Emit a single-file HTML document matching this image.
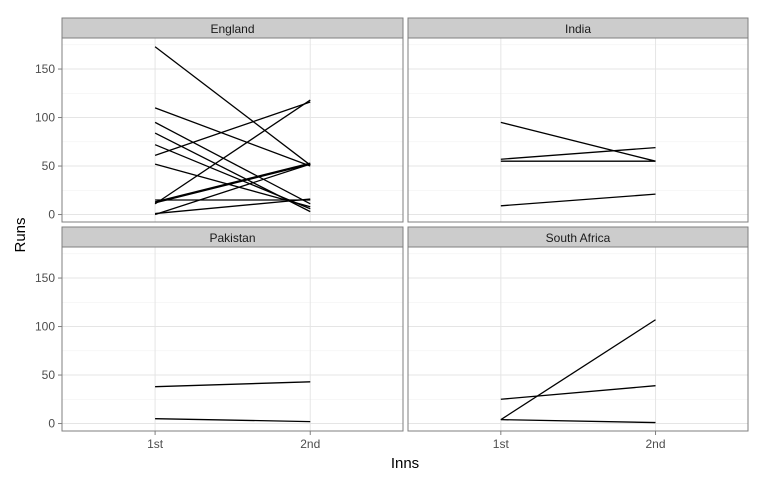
<!DOCTYPE html>
<html><head><meta charset="utf-8"><style>
body{margin:0;background:#fff;font-family:"Liberation Sans",sans-serif}
</style></head><body>
<svg id="c" width="768" height="480" xmlns="http://www.w3.org/2000/svg"></svg>
<script>
const panels=["England","India","Pakistan","South Africa"];
const innsCats=["1st","2nd"];
const yTicks=[0,50,100,150];
const englandRuns=[[173,51],[110,50],[95,11],[84,3],[72,6],[61,116],[52,8],[15,15],[13,53],[11,118],[12,52],[1,16],[0,52]];
const indiaRuns=[[95,55],[57,69],[55,55],[9,21]];
const pakistanRuns=[[38,43],[5,2]];
const southAfricaRuns=[[4,107],[25,39],[4,1]];
const seriesByPanel=[englandRuns,indiaRuns,pakistanRuns,southAfricaRuns];

const svg=document.getElementById('c');
const NS="http://www.w3.org/2000/svg";
function mk(t,a,p){const e=document.createElementNS(NS,t);for(const k in a)e.setAttribute(k,a[k]);(p||svg).appendChild(e);return e;}
const cols=[[62,403],[408,748]];
const rows=[[18,38,222],[227,247,431]];
const yMin=-7.7,yMax=182;
function yScale(v,r){const [s,t,b]=rows[r];return b-(v-yMin)/(yMax-yMin)*(b-t);}
function xScale(i,c){const [l,rr]=cols[c];return l+(rr-l)*(i+0.6)/2.2*1+0;}
function xs(i,c){const [l,rr]=cols[c];const w=rr-l;return l+w*(0.273+0.455*i);}
panels.forEach((name,pi)=>{
  const c=pi%2,r=Math.floor(pi/2);
  const [l,rr]=cols[c];const [s,t,b]=rows[r];
  const g=mk('g',{},svg);
  
  
  mk('rect',{x:l,y:t,width:rr-l,height:b-t,fill:'#fff'},g);
  [25,75,125,175].forEach(v=>{const y=yScale(v,r);mk('line',{x1:l,x2:rr,y1:y,y2:y,stroke:'#f2f2f2','stroke-width':0.6},g);});
  yTicks.forEach(v=>{const y=yScale(v,r);mk('line',{x1:l,x2:rr,y1:y,y2:y,stroke:'#e5e5e5','stroke-width':1},g);});
  innsCats.forEach((cat,i)=>{const x=xs(i,c);mk('line',{x1:x,x2:x,y1:t,y2:b,stroke:'#e5e5e5','stroke-width':1},g);});
  seriesByPanel[pi].forEach(d=>{
    const ln=mk('line',{x1:xs(0,c),y1:yScale(d[0],r),x2:xs(1,c),y2:yScale(d[1],r),stroke:'#000','stroke-width':1.3},g);
    
    
  });
  mk('rect',{x:l,y:t,width:rr-l,height:b-t,fill:'none',stroke:'#7f7f7f','stroke-width':1},g);
  const st=mk('rect',{x:l,y:s,width:rr-l,height:t-s,fill:'#cccccc',stroke:'#7f7f7f','stroke-width':1},g);
  
  
  const tx=mk('text',{x:(l+rr)/2,y:s+15,'text-anchor':'middle','font-size':12,fill:'#1a1a1a'},g);
  tx.textContent=name;
  
  
  if(c===0){yTicks.forEach(v=>{const y=yScale(v,r);
    mk('line',{x1:l-4,x2:l,y1:y,y2:y,stroke:'#7f7f7f'},g);
    const tl=mk('text',{x:l-7,y:y+4,'text-anchor':'end','font-size':12,fill:'#4d4d4d'},g);tl.textContent=v;
    
    });}
  if(r===1){innsCats.forEach((cat,i)=>{const x=xs(i,c);
    mk('line',{x1:x,x2:x,y1:b,y2:b+4,stroke:'#7f7f7f'},g);
    const tl=mk('text',{x:x,y:b+17,'text-anchor':'middle','font-size':12,fill:'#4d4d4d'},g);tl.textContent=cat;
    
    });}
});
const xt=mk('text',{x:405,y:468,'text-anchor':'middle','font-size':15,fill:'#000'});xt.textContent='Inns';


const yt=mk('text',{x:0,y:0,'text-anchor':'middle','font-size':15,fill:'#000',transform:'translate(25,235) rotate(-90)'});yt.textContent='Runs';


</script>
</body></html>
